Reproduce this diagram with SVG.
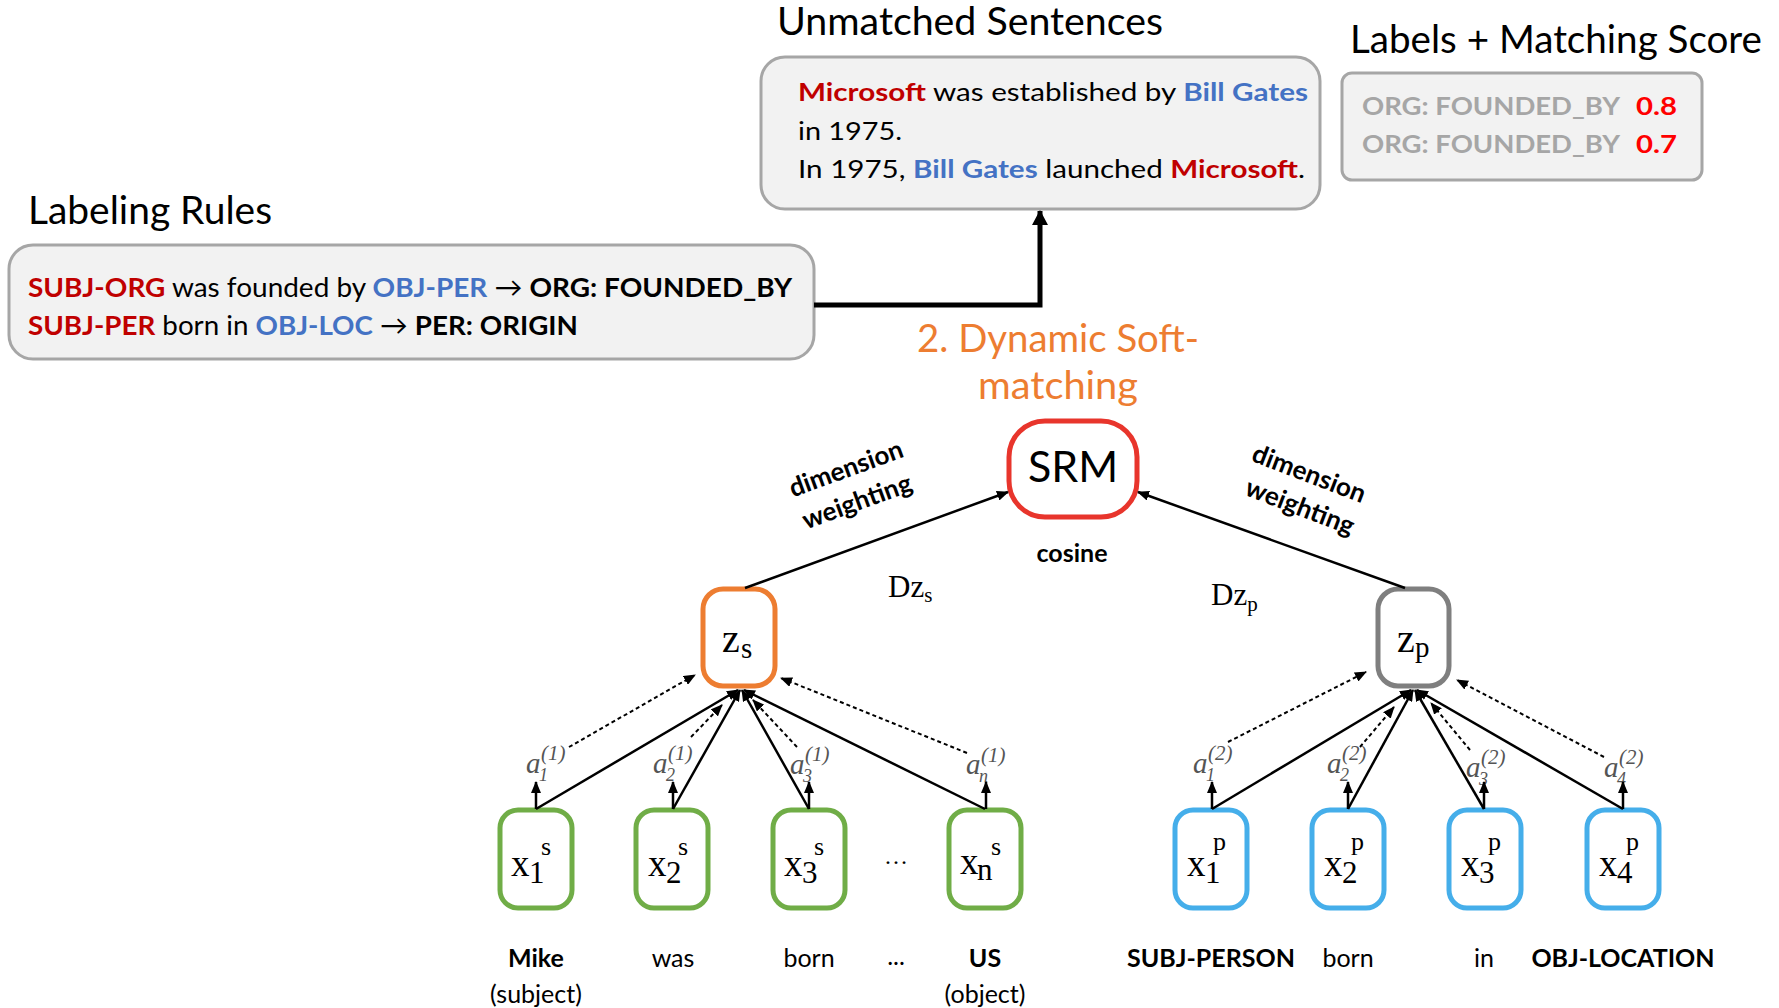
<svg xmlns="http://www.w3.org/2000/svg" width="1779" height="1008" viewBox="0 0 1779 1008">
  <style>
    .sans { font-family: Lato, "Liberation Sans", sans-serif; }
    .serif { font-family: "Liberation Serif", "DejaVu Serif", serif; fill: #000; }
    .title { font-family: Lato, "Liberation Sans", sans-serif; font-size: 38px; fill: #000; }
    .panel { fill: #f2f2f2; stroke: #a6a6a6; stroke-width: 3; }
    .b { font-weight: bold; }
    .red { fill: #c00000; }
    .blue { fill: #4472c4; }
    .grey { fill: #a6a6a6; }
    .hot { fill: #ff0000; }
    .node { fill: #fff; stroke-width: 5; }
    .g { stroke: #70ad47; }
    .bl { stroke: #45aeea; }
    .xv { font-size: 37px; }
    .xi { font-size: 31px; }
    .xt { font-size: 26px; }
    .word { font-family: Lato, "Liberation Sans", sans-serif; font-size: 25px; fill: #000; text-anchor: middle; }
    .wt { font-family: Lato, "Liberation Sans", sans-serif; font-size: 26px; font-weight: bold; fill: #000; text-anchor: middle; }
    .att { font-family: "Liberation Serif", "DejaVu Serif", serif; font-style: italic; fill: #555; }
    .edge { fill: none; stroke: #000; stroke-width: 2.5; }
    .dot { fill: none; stroke: #000; stroke-width: 2; stroke-dasharray: 4 3; }
  </style>
  <defs>
    <marker id="ah" viewBox="0 0 12 10" refX="11" refY="5" markerWidth="12" markerHeight="10" markerUnits="userSpaceOnUse" orient="auto">
      <path d="M0,0 L12,5 L0,10 z" fill="#000"/>
    </marker>
    <marker id="ahBig" viewBox="0 0 15 16" refX="14" refY="8" markerWidth="15" markerHeight="16" markerUnits="userSpaceOnUse" orient="auto">
      <path d="M0,0 L15,8 L0,16 z" fill="#000"/>
    </marker>
  </defs>

  <!-- section titles -->
  <text class="title" x="777" y="35" textLength="386" lengthAdjust="spacingAndGlyphs">Unmatched Sentences</text>
  <text class="title" x="1350" y="53" textLength="412" lengthAdjust="spacingAndGlyphs">Labels + Matching Score</text>
  <text class="title" x="28" y="224" textLength="244" lengthAdjust="spacingAndGlyphs">Labeling Rules</text>

  <!-- labeling rules panel -->
  <g id="labeling-rules">
    <rect class="panel" x="9" y="245" width="805" height="114" rx="24"/>
    <text class="sans" x="28" y="297" font-size="27" textLength="764" lengthAdjust="spacingAndGlyphs"><tspan class="b red">SUBJ-ORG</tspan> was founded by <tspan class="b blue">OBJ-PER</tspan> → <tspan class="b">ORG: FOUNDED_BY</tspan></text>
    <text class="sans" x="28" y="335" font-size="27" textLength="550" lengthAdjust="spacingAndGlyphs"><tspan class="b red">SUBJ-PER</tspan> born in <tspan class="b blue">OBJ-LOC</tspan> → <tspan class="b">PER: ORIGIN</tspan></text>
  </g>

  <!-- unmatched sentences panel -->
  <g id="unmatched-sentences">
    <rect class="panel" x="761" y="57" width="559" height="152" rx="24"/>
    <text class="sans" x="798" y="101" font-size="25.5" textLength="510" lengthAdjust="spacingAndGlyphs"><tspan class="b red">Microsoft</tspan> was established by <tspan class="b blue">Bill Gates</tspan></text>
    <text class="sans" x="798" y="140" font-size="25.5" textLength="104" lengthAdjust="spacingAndGlyphs">in 1975.</text>
    <text class="sans" x="798" y="178" font-size="25.5" textLength="507" lengthAdjust="spacingAndGlyphs">In 1975, <tspan class="b blue">Bill Gates</tspan> launched <tspan class="b red">Microsoft</tspan>.</text>
  </g>

  <!-- labels and scores panel -->
  <g id="labels-scores">
    <rect class="panel" x="1342" y="73" width="360" height="107" rx="10"/>
    <text class="sans b grey" x="1362" y="115" font-size="25" textLength="258" lengthAdjust="spacingAndGlyphs">ORG: FOUNDED_BY</text>
    <text class="sans b hot" x="1636" y="115" font-size="25" textLength="41" lengthAdjust="spacingAndGlyphs">0.8</text>
    <text class="sans b grey" x="1362" y="153" font-size="25" textLength="258" lengthAdjust="spacingAndGlyphs">ORG: FOUNDED_BY</text>
    <text class="sans b hot" x="1636" y="153" font-size="25" textLength="41" lengthAdjust="spacingAndGlyphs">0.7</text>
  </g>

  <!-- stage caption -->
  <text class="sans" x="917" y="352" font-size="38" fill="#ed7d31" textLength="282" lengthAdjust="spacingAndGlyphs">2. Dynamic Soft-</text>
  <text class="sans" x="978" y="399" font-size="38" fill="#ed7d31" textLength="160" lengthAdjust="spacingAndGlyphs">matching</text>

  <!-- similarity module -->
  <g id="srm">
    <rect x="1009" y="421" width="128" height="96" rx="36" fill="#fff" stroke="#e8352c" stroke-width="5"/>
    <text class="sans" x="1073" y="482" font-size="43" text-anchor="middle">SRM</text>
  </g>
  <text class="sans b" x="1072" y="562" font-size="25" text-anchor="middle">cosine</text>

  <!-- edge annotations -->
  <text class="wt" transform="translate(849,477) rotate(-20)">dimension</text>
  <text class="wt" transform="translate(860,510) rotate(-20)">weighting</text>
  <text class="wt" transform="translate(1306,482) rotate(21)">dimension</text>
  <text class="wt" transform="translate(1297,515) rotate(21)">weighting</text>
  <text class="serif" x="888" y="597" font-size="31">Dz<tspan font-size="21" dy="5">s</tspan></text>
  <text class="serif" x="1211" y="605" font-size="31">Dz<tspan font-size="21" dy="6">p</tspan></text>

  <!-- sentence encoding -->
  <g id="z-s">
    <rect class="node" x="703" y="589" width="72" height="97" rx="20" stroke="#ed7d31"/>
    <text class="serif" x="722" y="652" font-size="40">z</text>
    <text class="serif" x="741" y="658" font-size="29">s</text>
  </g>
  <!-- pattern encoding -->
  <g id="z-p">
    <rect class="node" x="1378" y="589" width="71" height="97" rx="20" stroke="#7f7f7f"/>
    <text class="serif" x="1397" y="652" font-size="40">z</text>
    <text class="serif" x="1415" y="657" font-size="29">p</text>
  </g>

  <!-- sentence tokens -->
  <g id="x1-s">
    <rect class="node g" x="500" y="810" width="72" height="98" rx="18"/>
    <text class="serif xv" x="511" y="876">x</text>
    <text class="serif xi" x="529" y="883">1</text>
    <text class="serif xt" x="541" y="855">s</text>
  </g>
  <g id="x2-s">
    <rect class="node g" x="636" y="810" width="72" height="98" rx="18"/>
    <text class="serif xv" x="648" y="876">x</text>
    <text class="serif xi" x="666" y="883">2</text>
    <text class="serif xt" x="678" y="855">s</text>
  </g>
  <g id="x3-s">
    <rect class="node g" x="773" y="810" width="72" height="98" rx="18"/>
    <text class="serif xv" x="784" y="876">x</text>
    <text class="serif xi" x="802" y="883">3</text>
    <text class="serif xt" x="814" y="855">s</text>
  </g>
  <text class="serif" x="896" y="864" font-size="24" text-anchor="middle">…</text>
  <g id="xn-s">
    <rect class="node g" x="949" y="810" width="72" height="98" rx="18"/>
    <text class="serif xv" x="960" y="874">x</text>
    <text class="serif xi" x="977" y="880">n</text>
    <text class="serif xt" x="991" y="855">s</text>
  </g>

  <!-- pattern tokens -->
  <g id="x1-p">
    <rect class="node bl" x="1175" y="810" width="72" height="98" rx="18"/>
    <text class="serif xv" x="1187" y="876">x</text>
    <text class="serif xi" x="1205" y="883">1</text>
    <text class="serif xt" x="1213" y="850">p</text>
  </g>
  <g id="x2-p">
    <rect class="node bl" x="1312" y="810" width="72" height="98" rx="18"/>
    <text class="serif xv" x="1324" y="876">x</text>
    <text class="serif xi" x="1342" y="883">2</text>
    <text class="serif xt" x="1351" y="850">p</text>
  </g>
  <g id="x3-p">
    <rect class="node bl" x="1449" y="810" width="72" height="98" rx="18"/>
    <text class="serif xv" x="1461" y="876">x</text>
    <text class="serif xi" x="1479" y="883">3</text>
    <text class="serif xt" x="1488" y="850">p</text>
  </g>
  <g id="x4-p">
    <rect class="node bl" x="1587" y="810" width="72" height="98" rx="18"/>
    <text class="serif xv" x="1599" y="876">x</text>
    <text class="serif xi" x="1617" y="883">4</text>
    <text class="serif xt" x="1626" y="850">p</text>
  </g>

  <!-- token words -->
  <text class="word b" x="536" y="967">Mike</text>
  <text class="word" x="536" y="1003">(subject)</text>
  <text class="word" x="673" y="967">was</text>
  <text class="word" x="809" y="967">born</text>
  <text class="word" x="896" y="965">...</text>
  <text class="word b" x="985" y="967">US</text>
  <text class="word" x="985" y="1003">(object)</text>
  <text class="word b" x="1211" y="967">SUBJ-PERSON</text>
  <text class="word" x="1348" y="967">born</text>
  <text class="word" x="1484" y="967">in</text>
  <text class="word b" x="1623" y="967">OBJ-LOCATION</text>

  <!-- attention weights -->
  <g class="att">
    <text x="526" y="773" font-size="29">a</text><text x="539" y="781" font-size="18">1</text><text x="541" y="760" font-size="21">(1)</text>
    <text x="653" y="773" font-size="29">a</text><text x="666" y="781" font-size="18">2</text><text x="668" y="760" font-size="21">(1)</text>
    <text x="790" y="774" font-size="29">a</text><text x="803" y="782" font-size="18">3</text><text x="805" y="761" font-size="21">(1)</text>
    <text x="966" y="774" font-size="29">a</text><text x="979" y="782" font-size="18">n</text><text x="981" y="762" font-size="21">(1)</text>
    <text x="1193" y="773" font-size="29">a</text><text x="1206" y="781" font-size="18">1</text><text x="1208" y="760" font-size="21">(2)</text>
    <text x="1327" y="773" font-size="29">a</text><text x="1340" y="781" font-size="18">2</text><text x="1342" y="760" font-size="21">(2)</text>
    <text x="1466" y="777" font-size="29">a</text><text x="1479" y="785" font-size="18">3</text><text x="1481" y="764" font-size="21">(2)</text>
    <text x="1604" y="777" font-size="29">a</text><text x="1617" y="785" font-size="18">4</text><text x="1619" y="764" font-size="21">(2)</text>
  </g>

  <!-- connectors -->
  <g id="connectors">
    <polyline points="814,305 1040,305 1040,211" fill="none" stroke="#000" stroke-width="5" marker-end="url(#ahBig)"/>
    <line class="edge" x1="745" y1="588" x2="1008" y2="492" marker-end="url(#ah)"/>
    <line class="edge" x1="1405" y1="588" x2="1138" y2="492" marker-end="url(#ah)"/>

    <line class="edge" x1="536" y1="809" x2="738" y2="690" marker-end="url(#ah)"/>
    <line class="edge" x1="673" y1="809" x2="740" y2="690" marker-end="url(#ah)"/>
    <line class="edge" x1="809" y1="809" x2="742" y2="690" marker-end="url(#ah)"/>
    <line class="edge" x1="985" y1="809" x2="744" y2="690" marker-end="url(#ah)"/>
    <line class="edge" x1="536" y1="809" x2="536" y2="782" marker-end="url(#ah)"/>
    <line class="edge" x1="673" y1="809" x2="673" y2="782" marker-end="url(#ah)"/>
    <line class="edge" x1="809" y1="809" x2="809" y2="782" marker-end="url(#ah)"/>
    <line class="edge" x1="986" y1="809" x2="986" y2="782" marker-end="url(#ah)"/>
    <line class="dot" x1="569" y1="747" x2="695" y2="675" marker-end="url(#ah)"/>
    <line class="dot" x1="691" y1="737" x2="722" y2="705" marker-end="url(#ah)"/>
    <line class="dot" x1="797" y1="747" x2="753" y2="700" marker-end="url(#ah)"/>
    <line class="dot" x1="967" y1="753" x2="781" y2="678" marker-end="url(#ah)"/>

    <line class="edge" x1="1212" y1="809" x2="1411" y2="690" marker-end="url(#ah)"/>
    <line class="edge" x1="1348" y1="809" x2="1413" y2="690" marker-end="url(#ah)"/>
    <line class="edge" x1="1484" y1="809" x2="1415" y2="690" marker-end="url(#ah)"/>
    <line class="edge" x1="1623" y1="809" x2="1417" y2="690" marker-end="url(#ah)"/>
    <line class="edge" x1="1212" y1="809" x2="1212" y2="782" marker-end="url(#ah)"/>
    <line class="edge" x1="1348" y1="809" x2="1348" y2="782" marker-end="url(#ah)"/>
    <line class="edge" x1="1484" y1="809" x2="1484" y2="782" marker-end="url(#ah)"/>
    <line class="edge" x1="1623" y1="809" x2="1623" y2="782" marker-end="url(#ah)"/>
    <line class="dot" x1="1228" y1="742" x2="1366" y2="672" marker-end="url(#ah)"/>
    <line class="dot" x1="1360" y1="747" x2="1394" y2="707" marker-end="url(#ah)"/>
    <line class="dot" x1="1470" y1="750" x2="1431" y2="703" marker-end="url(#ah)"/>
    <line class="dot" x1="1604" y1="757" x2="1457" y2="680" marker-end="url(#ah)"/>
  </g>
</svg>
